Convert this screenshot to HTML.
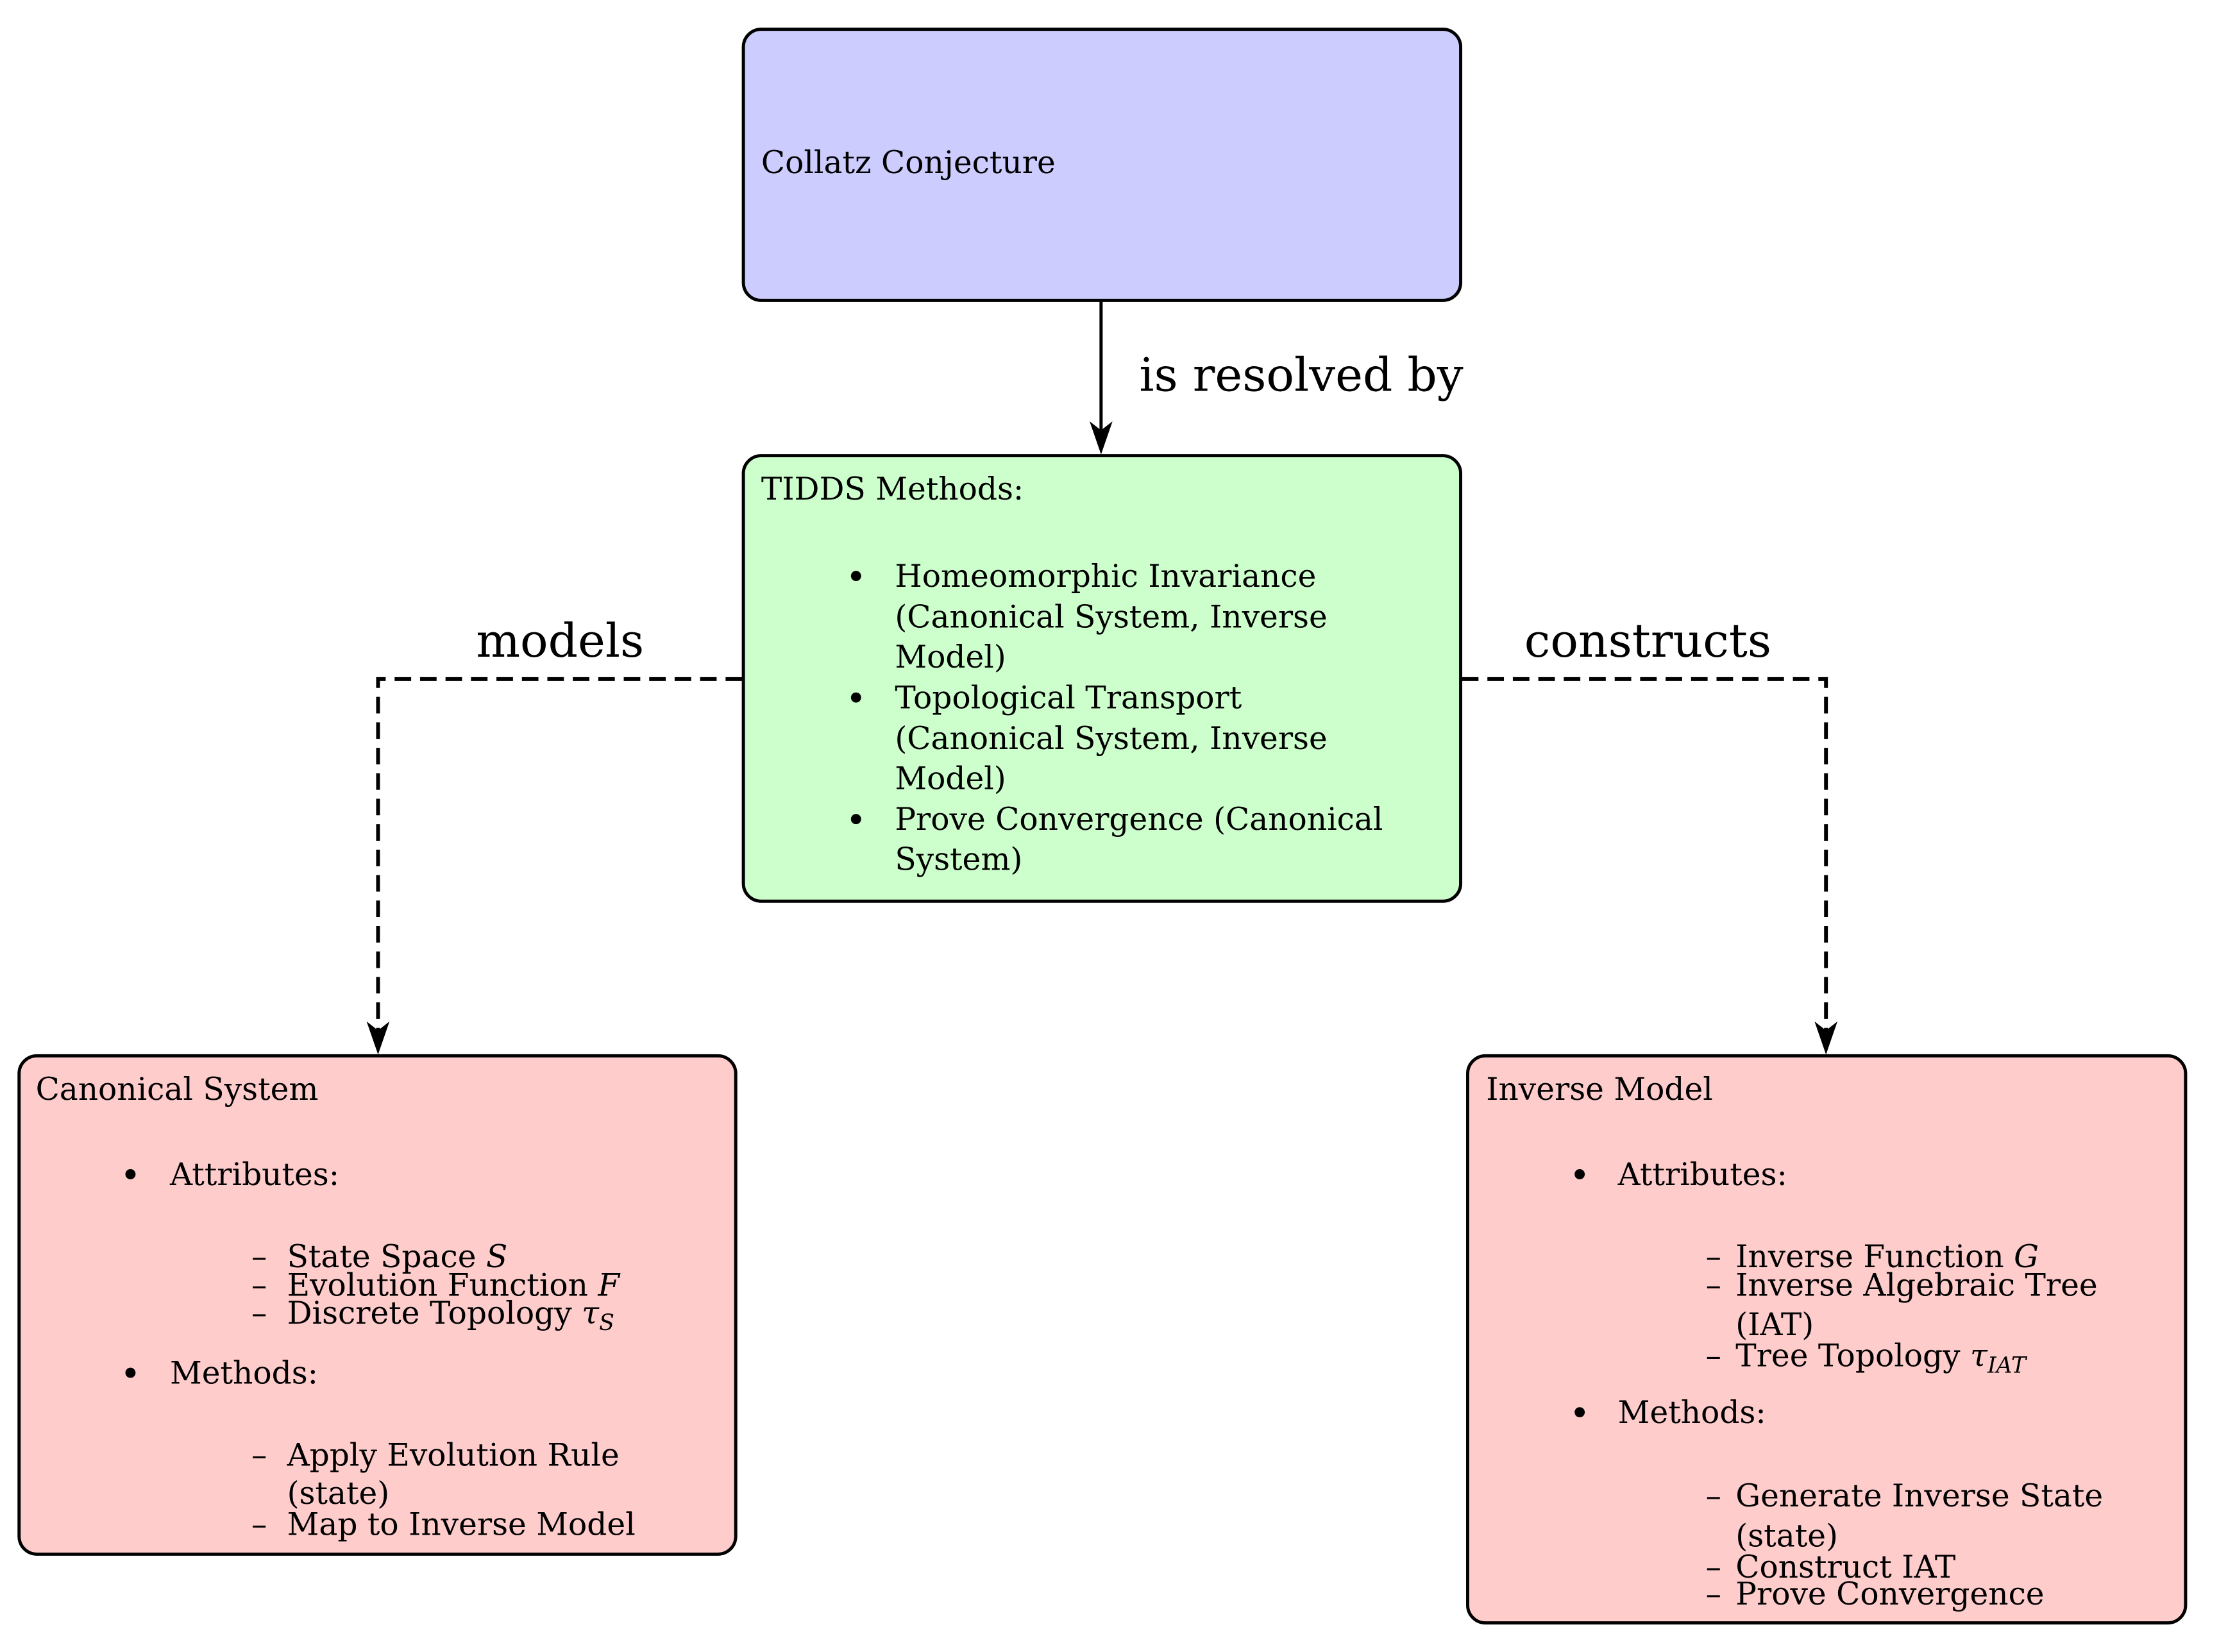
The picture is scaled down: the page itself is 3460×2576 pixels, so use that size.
<!DOCTYPE html>
<html><head><meta charset="utf-8"><style>
html,body{margin:0;padding:0;background:#fff;}
svg{display:block;}
text{font-family:"DejaVu Serif","Liberation Serif",serif;font-size:49px;fill:#000;}
.lbl{font-size:73px;}
</style></head><body>
<svg width="3460" height="2576" viewBox="0 0 3460 2576" xmlns="http://www.w3.org/2000/svg">
<g transform="scale(0.9924)">
<rect x="1168" y="46" width="1127" height="426" rx="28" fill="#ccccff" stroke="#000" stroke-width="5"/>
<rect x="1168" y="716" width="1127" height="700" rx="28" fill="#ccffcc" stroke="#000" stroke-width="5"/>
<rect x="30" y="1659" width="1126" height="783" rx="28" fill="#ffcccc" stroke="#000" stroke-width="5"/>
<rect x="2306" y="1659" width="1128" height="891" rx="28" fill="#ffcccc" stroke="#000" stroke-width="5"/>

<line x1="1730" y1="474" x2="1730" y2="700" stroke="#000" stroke-width="5"/>
<path d="M1730 714 L1712 662 L1730 676 L1748 662 Z" fill="#000"/>
<polyline points="1166,1067 594,1067 594,1640" fill="none" stroke="#000" stroke-width="6" stroke-dasharray="26,14"/>
<path d="M594 1657 L576 1605 L594 1619 L612 1605 Z" fill="#000"/>
<polyline points="2297,1067 2869,1067 2869,1640" fill="none" stroke="#000" stroke-width="6" stroke-dasharray="26,14"/>
<path d="M2869 1657 L2851 1605 L2869 1619 L2887 1605 Z" fill="#000"/>

<text class="lbl" x="1790" y="614">is resolved by</text>
<text class="lbl" x="748" y="1032">models</text>
<text class="lbl" x="2395" y="1032">constructs</text>

<text x="1196" y="272">Collatz Conjecture</text>

<text x="1196" y="785">TIDDS Methods:</text>
<circle cx="1345" cy="905" r="8"/>
<text x="1406" y="922">Homeomorphic Invariance</text>
<text x="1406" y="986">(Canonical System, Inverse</text>
<text x="1406" y="1049">Model)</text>
<circle cx="1345" cy="1096" r="8"/>
<text x="1406" y="1113">Topological Transport</text>
<text x="1406" y="1177">(Canonical System, Inverse</text>
<text x="1406" y="1240">Model)</text>
<circle cx="1345" cy="1287" r="8"/>
<text x="1406" y="1304">Prove Convergence (Canonical</text>
<text x="1406" y="1367">System)</text>

<text x="56" y="1728">Canonical System</text>
<circle cx="205" cy="1845" r="8"/>
<text x="267" y="1862">Attributes:</text>
<text x="395" y="1991">–</text><text x="451" y="1991">State Space <tspan font-style="italic">S</tspan></text>
<text x="395" y="2036">–</text><text x="451" y="2036">Evolution Function <tspan font-style="italic">F</tspan></text>
<text x="395" y="2080">–</text><text x="451" y="2080">Discrete Topology <tspan font-style="italic">τ</tspan><tspan font-style="italic" font-size="35" dy="10">S</tspan></text>
<circle cx="205" cy="2157" r="8"/>
<text x="267" y="2174">Methods:</text>
<text x="395" y="2303">–</text><text x="451" y="2303">Apply Evolution Rule</text>
<text x="451" y="2363">(state)</text>
<text x="395" y="2412">–</text><text x="451" y="2412">Map to Inverse Model</text>

<text x="2335" y="1728">Inverse Model</text>
<circle cx="2482" cy="1845" r="8"/>
<text x="2542" y="1862">Attributes:</text>
<text x="2680" y="1991">–</text><text x="2727" y="1991">Inverse Function <tspan font-style="italic">G</tspan></text>
<text x="2680" y="2036">–</text><text x="2727" y="2036">Inverse Algebraic Tree</text>
<text x="2727" y="2098">(IAT)</text>
<text x="2680" y="2147">–</text><text x="2727" y="2147">Tree Topology <tspan font-style="italic">τ</tspan><tspan font-style="italic" font-size="35" dy="10">IAT</tspan></text>
<circle cx="2482" cy="2219" r="8"/>
<text x="2542" y="2236">Methods:</text>
<text x="2680" y="2367">–</text><text x="2727" y="2367">Generate Inverse State</text>
<text x="2727" y="2430">(state)</text>
<text x="2680" y="2479">–</text><text x="2727" y="2479">Construct IAT</text>
<text x="2680" y="2521">–</text><text x="2727" y="2521">Prove Convergence</text>
</g>
</svg>
</body></html>
